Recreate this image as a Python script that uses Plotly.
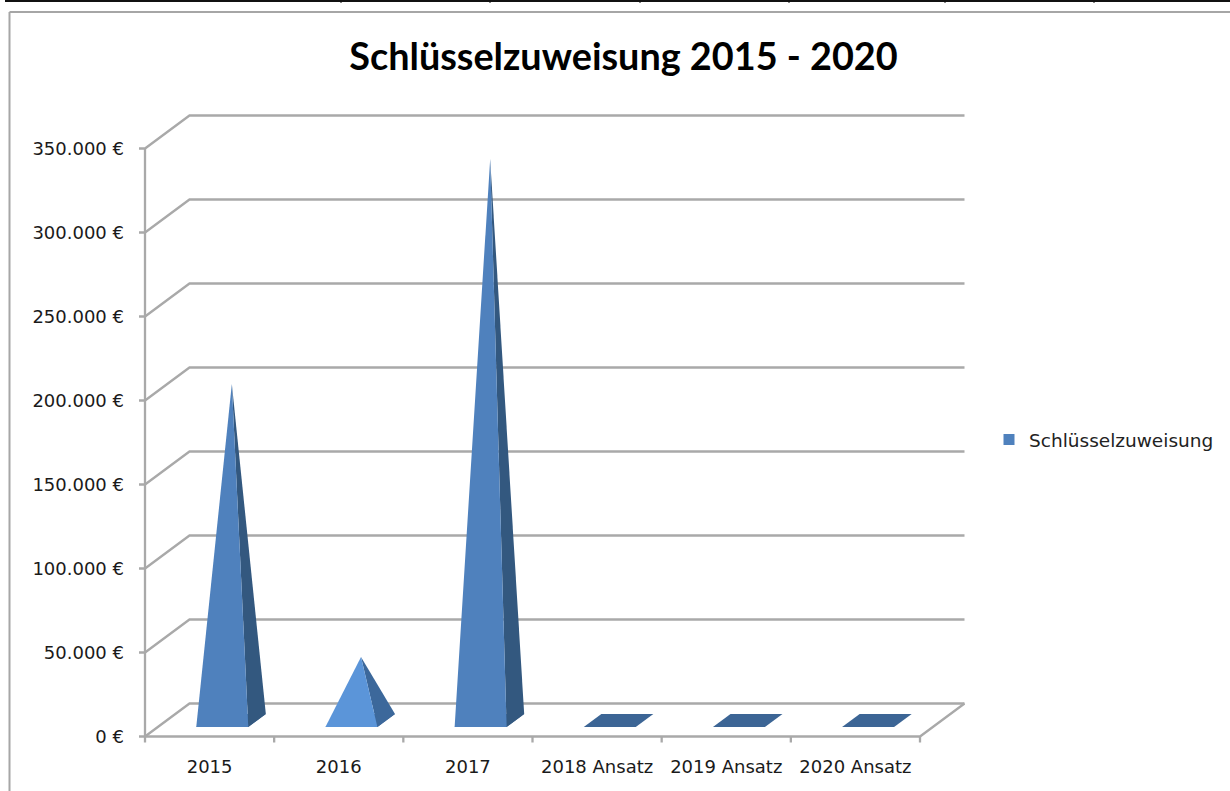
import plotly.graph_objects as go

categories = ["2015", "2016", "2017", "2018 Ansatz", "2019 Ansatz", "2020 Ansatz"]
values = [200000, 37500, 334000, 0, 0, 0]
y_ticks = [0, 50000, 100000, 150000, 200000, 250000, 300000, 350000]
y_labels = ["0 €", "50.000 €", "100.000 €", "150.000 €", "200.000 €", "250.000 €", "300.000 €", "350.000 €"]
front_colors = ["#4f81bd", "#5b95d9", "#4f81bd", "#4f81bd", "#4f81bd", "#4f81bd"]
side_colors = ["#33587f", "#3c689b", "#33587f", "#33587f", "#33587f", "#33587f"]
base_color = "#3c6595"
grid_color = "#a9a9a9"
title = "Schlüsselzuweisung 2015 - 2020"
series_name = "Schlüsselzuweisung"

W, H = 1230, 791
L, R, T, B = 135, 975, 106, 746      # plot area, a little larger than the drawn walls
X0, Y0 = 145, 736.5                  # pixel of the axes' origin
PX_PER_CAT = (920 - 145) / 6
PX_PER_VAL = (736.5 - 148.5) / 350000
DX = 44.5 / PX_PER_CAT               # floor depth, in category units
DY = 33 / PX_PER_VAL                 # floor depth, in value units
HALF = 26 / PX_PER_CAT
F1, F2 = 0.285, 0.68
TICK_X = 6 / PX_PER_CAT
TICK_Y = 6 / PX_PER_VAL

def px(x):
    return (x - L) / (R - L)

def py(y):
    return (B - y) / (B - T)

fig = go.Figure()

def line(xs, ys, color=grid_color, width=2.3):
    fig.add_trace(go.Scatter(x=xs, y=ys, mode="lines", line=dict(color=color, width=width),
                             showlegend=False, hoverinfo="skip"))

def poly(xs, ys, color):
    fig.add_trace(go.Scatter(x=xs, y=ys, mode="lines", fill="toself", fillcolor=color,
                             line=dict(color=color, width=0), showlegend=False,
                             hoverinfo="skip"))

# axes walls, ticks and gridlines
n = len(categories)
for v in y_ticks:
    line([-TICK_X, 0, DX, n + DX], [v, v, v + DY, v + DY])
line([0, 0], [0, y_ticks[-1]])
line([0, n, n + DX], [0, 0, DY])
for i in range(n + 1):
    line([i, i], [0, -TICK_Y])

# pyramids
for i, v in enumerate(values):
    c = i + 0.5
    xl1, xr1 = c - HALF + F1 * DX, c + HALF + F1 * DX
    xl2, xr2 = c - HALF + F2 * DX, c + HALF + F2 * DX
    y1, y2 = F1 * DY, F2 * DY
    tipx, tipy = c + 0.5 * DX, 0.5 * DY + v
    poly([xl1, xr1, xr2, xl2, xl1], [y1, y1, y2, y2, y1], base_color)
    if v > 0:
        poly([xr1, xr2, tipx, xr1], [y1, y2, tipy, y1], side_colors[i])
        poly([xl1, xr1, tipx, xl1], [y1, y1, tipy, y1], front_colors[i])

# legend entry
fig.add_trace(go.Scatter(x=[None], y=[None], mode="markers", name=series_name,
                         marker=dict(symbol="square", size=11, color=front_colors[0])))

frame = "#a6a6a6"
shapes = [
    dict(type="line", xref="paper", yref="paper", x0=px(9.5), x1=px(9.5), y0=py(12), y1=py(H + 2),
         line=dict(color=frame, width=2)),
    dict(type="line", xref="paper", yref="paper", x0=px(9.5), x1=px(W + 2), y0=py(12), y1=py(12),
         line=dict(color=frame, width=2)),
    dict(type="line", xref="paper", yref="paper", x0=px(5), x1=px(W + 2), y0=py(1), y1=py(1),
         line=dict(color="#111111", width=2)),
]
for cx in [341, 490, 640, 789, 945, 1094]:
    shapes.append(dict(type="line", xref="paper", yref="paper", x0=px(cx), x1=px(cx), y0=py(0), y1=py(3),
                       line=dict(color="#111111", width=1)))

fig.update_layout(
    width=W, height=H,
    margin=dict(l=L, r=W - R, t=T, b=H - B, autoexpand=False),
    paper_bgcolor="white", plot_bgcolor="white",
    font=dict(family="DejaVu Sans", color="#1a1a1a", size=18),
    title=dict(text="<b>" + title + "</b>", font=dict(family="Lato", size=37.8, color="black"),
               x=623.5 / W, xanchor="center", y=1 - 57 / H, yanchor="middle"),
    showlegend=True,
    legend=dict(x=px(989), y=py(440), xanchor="left", yanchor="middle", bgcolor="rgba(0,0,0,0)",
                font=dict(family="DejaVu Sans", size=18.5, color="#222222"), itemwidth=30),
    shapes=shapes,
    xaxis=dict(range=[-(X0 - L) / PX_PER_CAT, (R - X0) / PX_PER_CAT], showgrid=False, zeroline=False,
               showline=False, tickmode="array", tickvals=[i + 0.5 for i in range(n)],
               ticktext=categories, ticks="", ticklabelstandoff=8),
    yaxis=dict(range=[-(B - Y0) / PX_PER_VAL, (Y0 - T) / PX_PER_VAL], showgrid=False, zeroline=False,
               showline=False, tickmode="array", tickvals=y_ticks, ticktext=y_labels,
               ticks="", ticklabelstandoff=10),
)

fig.write_html("out.html", config={"displayModeBar": False},
               post_script="document.body.style.margin='0';document.body.style.overflow='hidden';")
